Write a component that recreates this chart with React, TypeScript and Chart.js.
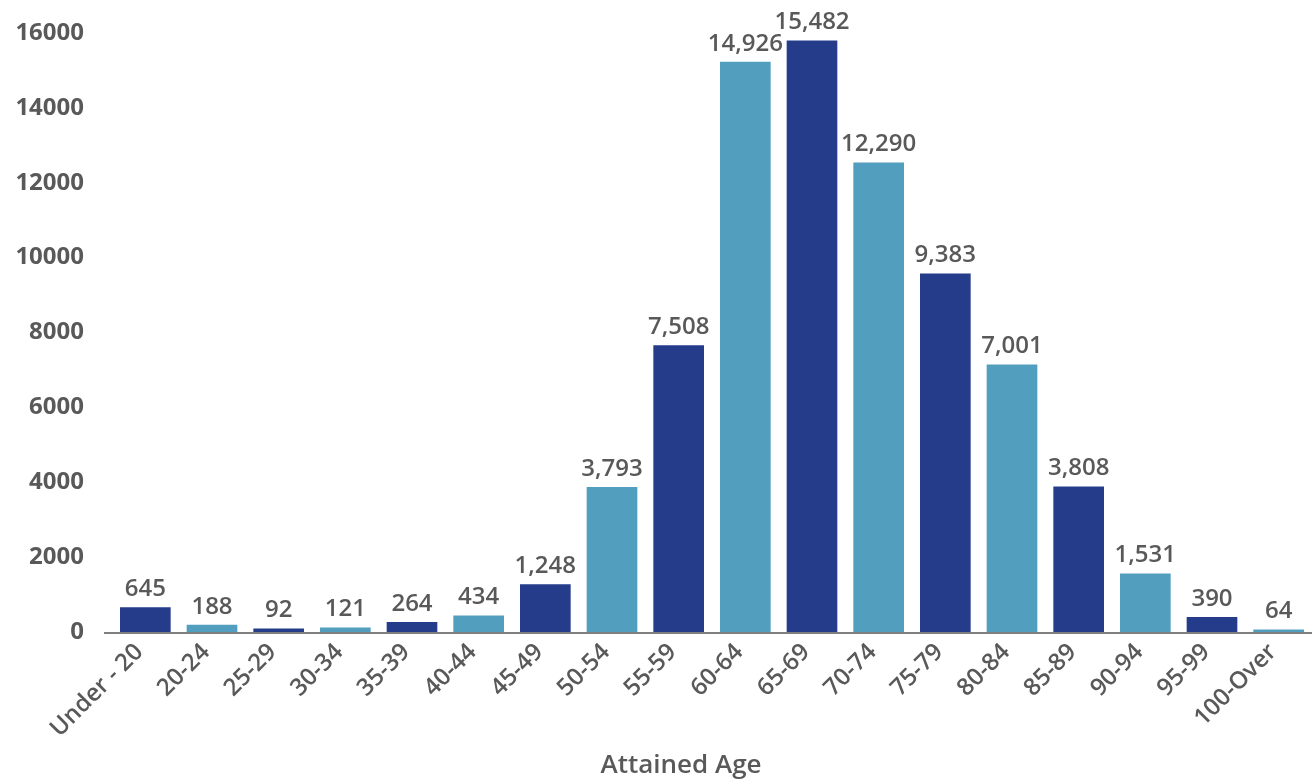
import React, { useEffect, useRef } from "react";
import { Chart, registerables } from "chart.js";

Chart.register(...registerables);

const categories = [
  "Under - 20", "20-24", "25-29", "30-34", "35-39", "40-44", "45-49", "50-54", "55-59",
  "60-64", "65-69", "70-74", "75-79", "80-84", "85-89", "90-94", "95-99", "100-Over",
];
const counts = [645, 188, 92, 121, 264, 434, 1248, 3793, 7508, 14926, 15482, 12290, 9383, 7001, 3808, 1531, 390, 64];
const barColors = [
  "#253C8B", "#529EBF", "#253C8B", "#529EBF", "#253C8B", "#529EBF", "#253C8B", "#529EBF", "#253C8B",
  "#529EBF", "#253C8B", "#529EBF", "#253C8B", "#529EBF", "#253C8B", "#529EBF", "#253C8B", "#529EBF",
];
const yTicks = [0, 2000, 4000, 6000, 8000, 10000, 12000, 14000, 16000];
const xTitle = "Attained Age";

const FONT = "'Open Sans', 'Noto Sans', sans-serif";
const GRAY = "#595959";

const labelPlugin = {
  id: "barLabels",
  afterDatasetsDraw(chart: any) {
    const ctx = chart.ctx;
    const meta = chart.getDatasetMeta(0);
    ctx.save();
    ctx.font = `600 24px ${FONT}`;
    ctx.fillStyle = GRAY;
    ctx.textAlign = "center";
    ctx.textBaseline = "bottom";
    meta.data.forEach((el: any, i: number) => {
      ctx.fillText(counts[i].toLocaleString("en-US"), el.x, el.y - 6);
    });
    ctx.restore();
  },
};

const axisLinePlugin = {
  id: "axisLine",
  afterDatasetsDraw(chart: any) {
    const { ctx, chartArea } = chart;
    ctx.save();
    ctx.strokeStyle = "#7F7F7F";
    ctx.lineWidth = 2;
    ctx.beginPath();
    ctx.moveTo(chartArea.left - 8, chartArea.bottom + 1);
    ctx.lineTo(chartArea.right, chartArea.bottom + 1);
    ctx.stroke();
    ctx.font = `600 26px ${FONT}`;
    ctx.fillStyle = GRAY;
    ctx.textAlign = "center";
    ctx.textBaseline = "middle";
    ctx.fillText(xTitle, 681, 766);
    ctx.restore();
  },
};

export default function App() {
  const ref = useRef<HTMLCanvasElement>(null);
  useEffect(() => {
    document.body.style.margin = "0";
    const chart = new Chart(ref.current!, {
      type: "bar",
      data: {
        labels: categories,
        datasets: [
          {
            data: counts,
            backgroundColor: barColors,
            categoryPercentage: 0.76,
            barPercentage: 1,
            yAxisID: "yBars",
          },
        ],
      },
      options: {
        animation: false,
        responsive: false,
        maintainAspectRatio: false,
        layout: { padding: { top: 33, right: 0, left: 0, bottom: 0 } },
        plugins: { legend: { display: false }, tooltip: { enabled: false } },
        scales: {
          x: {
            grid: { display: false, drawTicks: false },
            border: { display: false },
            ticks: {
              color: GRAY,
              font: { family: FONT, size: 24, weight: "600" as any },
              minRotation: 45,
              maxRotation: 45,
              autoSkip: false,
              padding: 6,
              labelOffset: -6,
            },
            afterFit(scale: any) {
              scale.height = 151;
              scale.paddingTop = 0;
              scale.paddingBottom = 0;
            },
          },
          y: {
            position: "left",
            min: 0,
            max: 16000,
            grid: { display: false, drawTicks: false },
            border: { display: false },
            afterBuildTicks(scale: any) {
              scale.ticks = yTicks.map((v) => ({ value: v }));
            },
            ticks: {
              color: GRAY,
              font: { family: FONT, size: 24, weight: "bold" as any },
              padding: 28,
              callback: (v: any) => String(v),
            },
            afterFit(scale: any) {
              scale.width = 112;
              scale.paddingTop = 0;
              scale.paddingBottom = 0;
            },
          },
          yBars: {
            display: false,
            min: 0,
            max: 15680,
          },
        },
      },
      plugins: [labelPlugin, axisLinePlugin],
    });
    return () => chart.destroy();
  }, []);
  return (
    <div style={{ position: "absolute", left: 0, top: 0, width: 1312, height: 783 }}>
      <canvas ref={ref} width={1312} height={783} />
    </div>
  );
}
